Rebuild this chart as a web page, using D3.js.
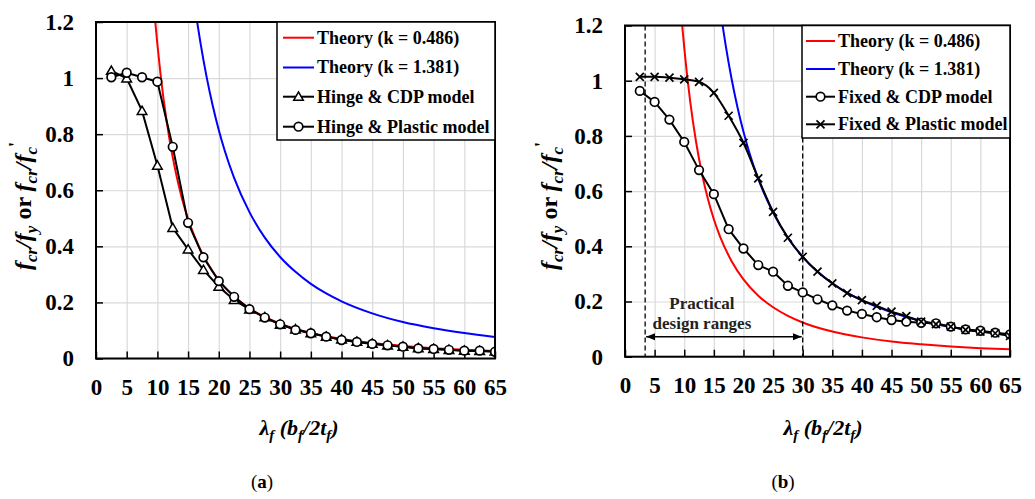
<!DOCTYPE html>
<html>
<head>
<meta charset="utf-8">
<script src="https://cdn.jsdelivr.net/npm/d3@7"></script>
<style>
  body { margin:0; background:#fff; }
  svg text { font-family:"Liberation Serif","Times New Roman",serif; font-weight:bold; }
</style>
</head>
<body>
<div class="maintable"></div>
<script>
// 数据
var xTicks = [0,5,10,15,20,25,30,35,40,45,50,55,60,65];
var yTicks = [0,0.2,0.4,0.6,0.8,1,1.2];
var yTickLabels = ["0","0.2","0.4","0.6","0.8","1","1.2"];

var xModel = [2.5,5,7.5,10,12.5,15,17.5,20,22.5,25,27.5,30,32.5,35,37.5,40,42.5,45,47.5,50,52.5,55,57.5,60,62.5,65];

var hingeCdp     = [1.026,0.999,0.883,0.688,0.466,0.389,0.316,0.256,0.209,0.175,0.147,0.121,0.104,0.090,0.078,0.068,0.060,0.053,0.047,0.042,0.037,0.034,0.031,0.028,0.027,0.025];
var hingePlastic = [1.003,1.019,1.003,0.987,0.755,0.484,0.361,0.276,0.220,0.176,0.146,0.122,0.102,0.090,0.078,0.066,0.059,0.052,0.047,0.042,0.036,0.034,0.031,0.028,0.028,0.024];
var fixedCdp     = [0.963,0.923,0.859,0.778,0.676,0.589,0.462,0.392,0.332,0.308,0.257,0.233,0.208,0.186,0.167,0.155,0.143,0.133,0.127,0.123,0.121,0.109,0.099,0.094,0.087,0.081];
var fixedPlastic = [1.014,1.014,1.011,1.005,0.996,0.956,0.873,0.775,0.646,0.525,0.431,0.362,0.308,0.266,0.230,0.205,0.184,0.163,0.147,0.127,0.118,0.109,0.097,0.091,0.085,0.075];

// 理论曲线
var redX  = [9.3,9.7,10,11,12,13,14,15,16,18,20,22.5,25,27.5,30,35,40,45,50,55,60,65];
var redY  = [1.29,1.19,1.12,0.926,0.778,0.663,0.571,0.498,0.438,0.346,0.280,0.221,0.179,0.148,0.124,0.091,0.070,0.055,0.045,0.037,0.031,0.027];
var blueX = [16,16.5,17,18,19,20,21,22.5,25,27.5,30,32.5,35,37.5,40,45,50,55,60,65];
var blueY = [1.27,1.197,1.128,1.006,0.903,0.815,0.739,0.644,0.522,0.431,0.362,0.309,0.266,0.232,0.204,0.161,0.130,0.108,0.091,0.077];

var designRange = [3.4, 30];
var designArrowY = 0.072;

var legendA = ["Theory (k = 0.486)","Theory (k = 1.381)","Hinge & CDP model","Hinge & Plastic model"];
var legendB = ["Theory (k = 0.486)","Theory (k = 1.381)","Fixed & CDP model","Fixed & Plastic model"];

var svg = d3.select(".maintable").append("svg")
  .attr("width",1035).attr("height",499);

var defs = svg.append("defs");
defs.append("marker").attr("id","arr").attr("viewBox","0 0 10 10")
  .attr("refX",10).attr("refY",5).attr("markerWidth",9).attr("markerHeight",9)
  .attr("markerUnits","userSpaceOnUse").attr("orient","auto-start-reverse")
  .append("path").attr("d","M0,1 L10,5 L0,9 Z").attr("fill","#000");

function drawMarker(g, type, x, y){
  if(type == "circle"){
    g.append("circle").attr("cx",x).attr("cy",y).attr("r",4.3)
      .attr("fill","#fff").attr("stroke","#000").attr("stroke-width",1.7);
  }else if(type == "tri"){
    g.append("path").attr("d",d3.symbol(d3.symbolTriangle,40)())
      .attr("transform","translate("+x+","+(y+0.8)+")")
      .attr("fill","#fff").attr("stroke","#000").attr("stroke-width",1.5);
  }else if(type == "x"){
    g.append("path").attr("d","M-4,-4L4,4M-4,4L4,-4")
      .attr("transform","translate("+x+","+y+")")
      .attr("stroke","#000").attr("stroke-width",1.7).attr("fill","none");
  }
}

function drawPanel(p){
  var g = svg.append("g");
  var x = d3.scaleLinear().domain([0,65]).range([p.left,p.right]);
  var y = d3.scaleLinear().domain([0,1.2]).range([p.bottom,p.top]);

  defs.append("clipPath").attr("id","clip"+p.id)
    .append("rect").attr("x",p.left).attr("y",p.top)
    .attr("width",p.right-p.left).attr("height",p.bottom-p.top);

  // 网格
  g.append("g").attr("transform","translate(0,"+p.bottom+")")
    .call(d3.axisBottom(x).tickValues(xTicks).tickSize(-(p.bottom-p.top)).tickFormat(""))
    .call(function(a){ a.select(".domain").remove(); a.selectAll("line").attr("stroke","#d9d9d9").attr("stroke-width",1.2); });
  g.append("g").attr("transform","translate("+p.left+",0)")
    .call(d3.axisLeft(y).tickValues(yTicks).tickSize(-(p.right-p.left)).tickFormat(""))
    .call(function(a){ a.select(".domain").remove(); a.selectAll("line").attr("stroke","#d9d9d9").attr("stroke-width",1.2); });

  // 刻度 (向内)
  g.append("g").attr("transform","translate(0,"+p.bottom+")")
    .call(d3.axisBottom(x).tickValues(xTicks).tickSize(-7).tickPadding(20).tickFormat(d3.format("d")))
    .call(function(a){
      a.select(".domain").remove();
      a.selectAll("line").attr("stroke","#000").attr("stroke-width",1.5);
      a.selectAll("text").attr("font-size","23px").attr("fill","#000").attr("dy","0.71em");
    });
  g.append("g").attr("transform","translate("+p.left+",0)")
    .call(d3.axisLeft(y).tickValues(yTicks).tickSize(-7).tickPadding(22).tickFormat(function(d,i){return yTickLabels[i];}))
    .call(function(a){
      a.select(".domain").remove();
      a.selectAll("line").attr("stroke","#000").attr("stroke-width",1.5);
      a.selectAll("text").attr("font-size","23px").attr("fill","#000");
    });

  var plot = g.append("g").attr("clip-path","url(#clip"+p.id+")");

  // 理论曲线
  var line = d3.line().x(function(d){return x(d[0]);}).y(function(d){return y(d[1]);}).curve(d3.curveMonotoneX);
  plot.append("path").datum(d3.zip(redX,redY)).attr("d",line)
    .attr("fill","none").attr("stroke","#ff0000").attr("stroke-width",2);
  plot.append("path").datum(d3.zip(blueX,blueY)).attr("d",line)
    .attr("fill","none").attr("stroke","#0000ff").attr("stroke-width",2);

  // 实用设计范围
  if(p.range){
    designRange.forEach(function(v){
      plot.append("line").attr("x1",x(v)).attr("x2",x(v)).attr("y1",p.top).attr("y2",p.bottom)
        .attr("stroke","#000").attr("stroke-width",1.3).attr("stroke-dasharray","5,3");
    });
    plot.append("line").attr("x1",x(designRange[0])+1).attr("x2",x(designRange[1])-1)
      .attr("y1",y(designArrowY)).attr("y2",y(designArrowY))
      .attr("stroke","#000").attr("stroke-width",1.5)
      .attr("marker-start","url(#arr)").attr("marker-end","url(#arr)");
    var tx = (x(designRange[0])+x(designRange[1]))/2 - 22;
    plot.append("text").attr("x",tx).attr("y",y(designArrowY)-28).attr("text-anchor","middle")
      .attr("font-size","17px").attr("fill","#222").text("Practical");
    plot.append("text").attr("x",tx).attr("y",y(designArrowY)-8).attr("text-anchor","middle")
      .attr("font-size","17px").attr("fill","#222").text("design ranges");
  }

  // 模型曲线
  p.series.forEach(function(s){
    var l = d3.line().x(function(d){return x(d[0]);}).y(function(d){return y(d[1]);})
      .curve(s.smooth ? d3.curveMonotoneX : d3.curveLinear);
    plot.append("path").datum(d3.zip(xModel,s.values)).attr("d",l)
      .attr("fill","none").attr("stroke","#000").attr("stroke-width",2);
  });
  p.series.forEach(function(s){
    xModel.forEach(function(v,i){ drawMarker(plot, s.marker, x(v), y(s.values[i])); });
  });

  // 边框
  g.append("rect").attr("x",p.left).attr("y",p.top)
    .attr("width",p.right-p.left).attr("height",p.bottom-p.top)
    .attr("fill","none").attr("stroke","#000").attr("stroke-width",2);

  // 图例
  var L = p.legend;
  var lg = g.append("g");
  lg.append("rect").attr("x",L.x).attr("y",p.top).attr("width",p.right-L.x).attr("height",L.h)
    .attr("fill","#fff").attr("stroke","#000").attr("stroke-width",1.5);
  var items = [{c:"#ff0000"},{c:"#0000ff"},{c:"#000",m:p.series[0].marker},{c:"#000",m:p.series[1].marker}];
  items.forEach(function(it,i){
    var yy = L.rows[i];
    lg.append("line").attr("x1",L.lx[0]).attr("x2",L.lx[1]).attr("y1",yy).attr("y2",yy)
      .attr("stroke",it.c).attr("stroke-width",2);
    if(it.m) drawMarker(lg, it.m, (L.lx[0]+L.lx[1])/2, yy);
    lg.append("text").attr("x",L.tx).attr("y",yy).attr("dy","0.33em")
      .attr("font-size","18px").attr("fill","#000").text(p.labels[i]);
  });

  // y 轴标题
  var yl = g.append("text").attr("transform","translate("+p.ylabX+",206) rotate(-90)")
    .attr("text-anchor","middle").attr("font-size","24px").attr("fill","#000");
  var parts = [["f","i"],["cr","s"],["/","i"],["f","i"],["y","s"],[" or ","n"],["f","i"],["cr","s"],["/","i"],["f","i"],["c","s"],["'","p"]];
  var shift = 0;
  parts.forEach(function(pt){
    var ts = yl.append("tspan").text(pt[0]);
    var target = pt[1]=="s" ? 6 : (pt[1]=="p" ? -9 : 0);
    ts.attr("dy", target-shift); shift = target;
    if(pt[1]=="s"){ ts.attr("font-size","17px").attr("font-style","italic"); }
    else if(pt[1]=="p"){ ts.attr("font-size","18px"); }
    else if(pt[1]=="i"){ ts.attr("font-style","italic"); }
  });

  // x 轴标题
  var xl = g.append("text").attr("x",p.xlabX).attr("y",435)
    .attr("text-anchor","middle").attr("font-size","22px").attr("fill","#000").attr("font-style","italic");
  var xparts = [["λ",""],["f","s"],[" (b",""],["f","s"],["/2t",""],["f","s"],[")",""]];
  shift = 0;
  xparts.forEach(function(pt){
    var ts = xl.append("tspan").text(pt[0]);
    var target = pt[1]=="s" ? 5 : 0;
    ts.attr("dy", target-shift); shift = target;
    if(pt[1]=="s") ts.attr("font-size","15px");
  });

  // 标号
  var cap = g.append("text").attr("x",p.capX).attr("y",488).attr("text-anchor","middle")
    .attr("font-size","19px").attr("fill","#000");
  cap.append("tspan").attr("font-weight","normal").text("(");
  cap.append("tspan").text(p.cap);
  cap.append("tspan").attr("font-weight","normal").text(")");
}

drawPanel({
  id:"a", left:96, right:495, top:22, bottom:358.5,
  series:[{values:hingeCdp,marker:"tri"},{values:hingePlastic,marker:"circle"}],
  labels:legendA,
  legend:{x:277, h:118, rows:[37.7,67.5,96.7,126.7], lx:[283,314], tx:317},
  ylabX:31, xlabX:299, capX:262, cap:"a", range:false
});

drawPanel({
  id:"b", left:625, right:1010, top:25.5, bottom:356.7,
  series:[{values:fixedCdp,marker:"circle"},{values:fixedPlastic,marker:"x",smooth:true}],
  labels:legendB,
  legend:{x:802, h:112.5, rows:[41,69,96.7,124.3], lx:[806,835], tx:838},
  ylabX:557, xlabX:823, capX:783, cap:"b", range:true
});
</script>
</body>
</html>
